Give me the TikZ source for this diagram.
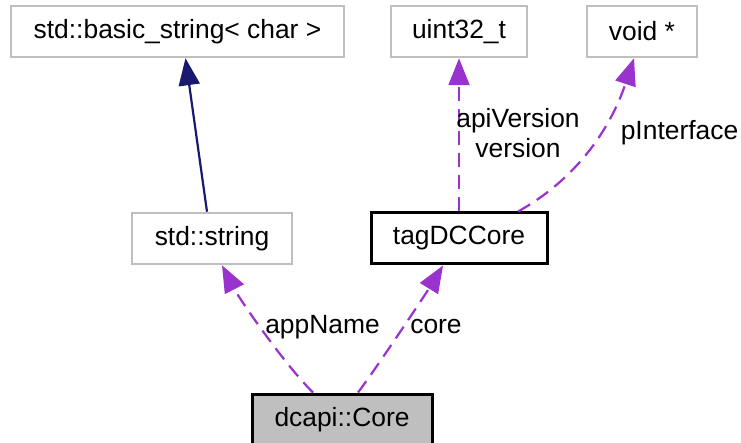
\documentclass[tikz,border=0pt]{standalone}
\usepackage{fontspec}
\setmainfont{Liberation Sans}
\usepackage{tikz}
\usetikzlibrary{positioning, arrows.meta}
\definecolor{orchid}{HTML}{9A32CD}
\definecolor{midnight}{HTML}{191970}
\definecolor{boxgrey}{HTML}{BFBFBF}
\tikzstyle{member} = [orchid, line width=2.2pt, dash pattern=on 14pt off 8pt, -{Triangle[length=27pt,width=21pt]}]
\tikzstyle{inherit} = [midnight, line width=2.2pt, -{Triangle[length=27pt,width=21pt]}]

\begin{document}
\begin{tikzpicture}[
    x=1pt, y=-1pt,
    every node/.style={
        inner sep=0pt,
        font=\fontsize{26.4}{30}\selectfont
    },
    extcls/.style={draw=boxgrey, line width=2.5pt, minimum height=51pt},
    doccls/.style={draw=black, line width=3pt, minimum height=51pt},
    lbl/.style={align=center}
]
\useasboundingbox (0,0) rectangle (741,443);

% ======================
% top row
% ======================
\node[extcls, minimum width=333pt] (bstr) at (177.5,31.5) {std::basic\_string< char >};
\node[extcls, minimum width=136pt] (uint) at (459,31.5) {uint32\_t};
\node[extcls, minimum width=110pt] (voidp) at (642,31.5) {void *};

% ======================
% middle row
% ======================
\node[extcls, minimum width=160pt] (stdstr) at (212,238.5) {std::string};
\node[doccls, minimum width=176pt] (tagdc) at (459,238.5) {tagDCCore};

% ======================
% bottom
% ======================
\node[doccls, fill=boxgrey, minimum width=180pt] (core) at (342,419.5) {dcapi::Core};

% ======================
% connectors
% ======================
\draw[inherit] ([xshift=-5pt]stdstr.north) -- ([xshift=8pt]bstr.south);
\draw[member] (tagdc.north) -- (uint.south);
\draw[member] ([xshift=59pt]tagdc.north) .. controls (575,180) and (610,130) .. ([xshift=-8pt]voidp.south);
\draw[member] ([xshift=-29pt]core.north) .. controls (285,365) and (240,300) .. ([xshift=10pt]stdstr.south);
\draw[member] ([xshift=16pt]core.north) .. controls (375,370) and (425,295) .. ([xshift=-16pt]tagdc.south);

% ======================
% labels
% ======================
\node[lbl] (lbl_api) at (518,133) {apiVersion\\version};
\node[lbl] (lbl_pif) at (679.5,133) {pInterface};
\node[lbl] (lbl_app) at (322.5,327) {appName};
\node[lbl] (lbl_core) at (436,327) {core};

\end{tikzpicture}
\end{document}
